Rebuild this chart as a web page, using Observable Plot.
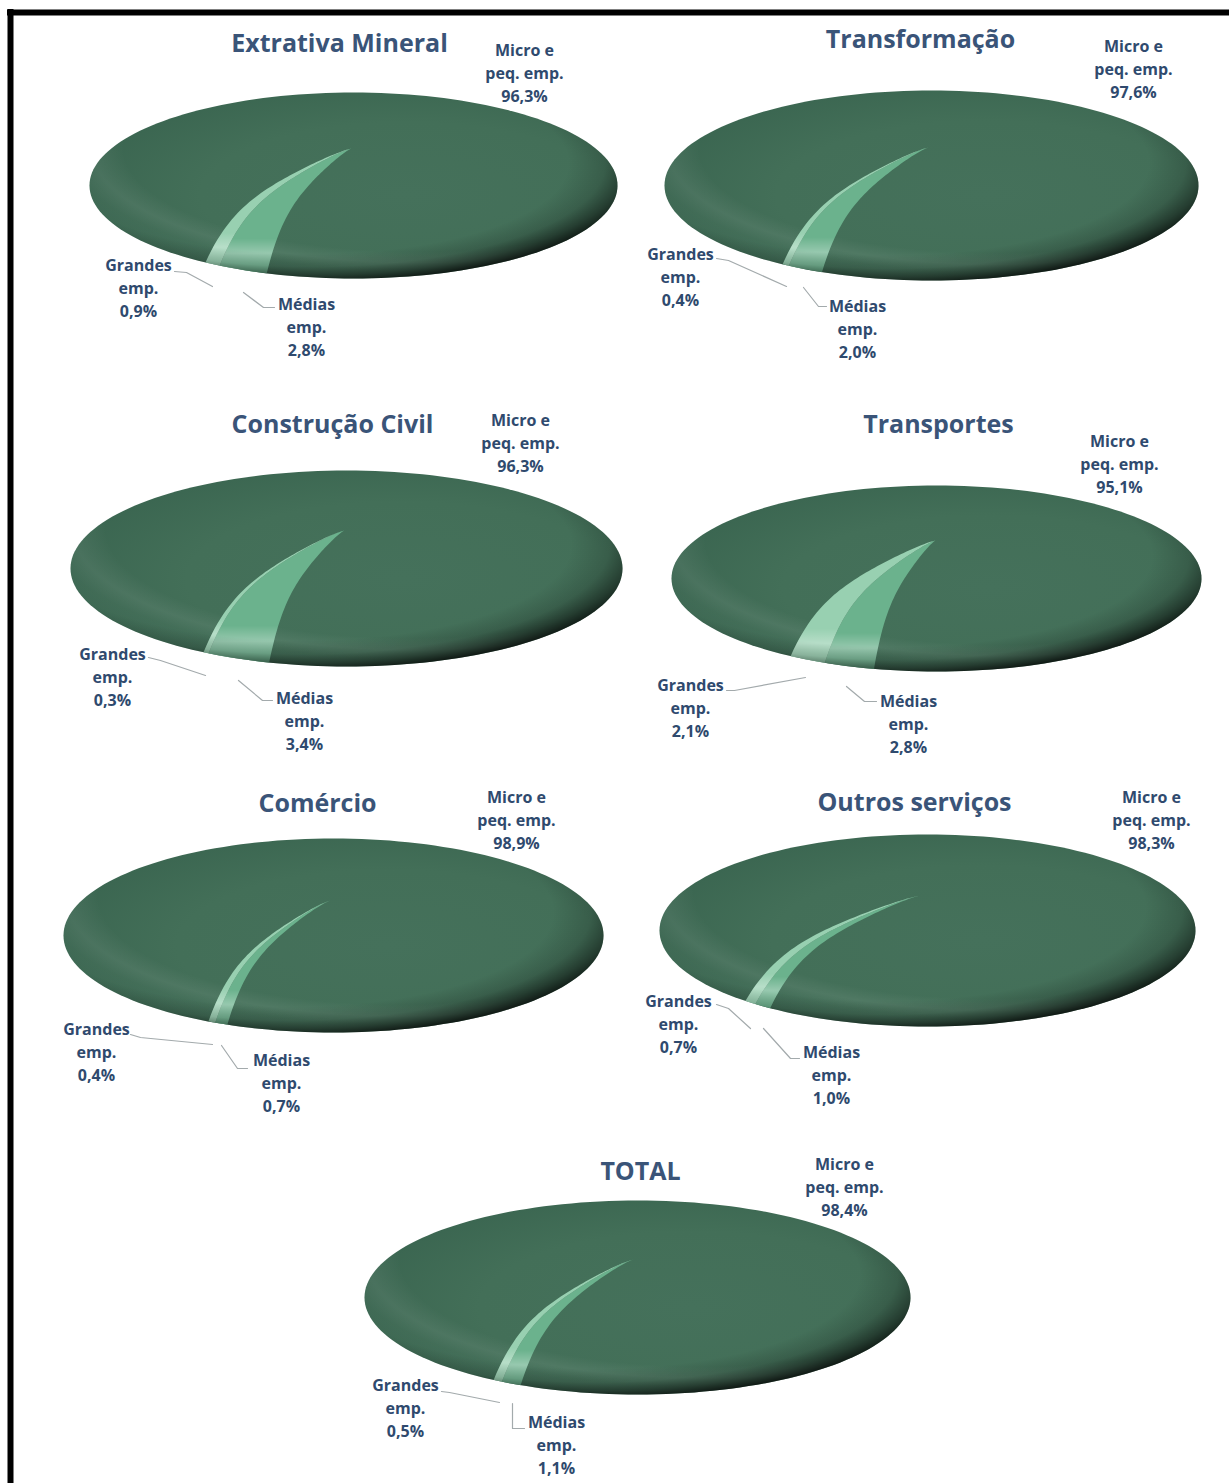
<!DOCTYPE html>
<html lang="pt">
<head>
<meta charset="utf-8">
<title>Participação das empresas por porte e setor</title>
<script src="https://cdn.jsdelivr.net/npm/d3@7"></script>
<script src="https://cdn.jsdelivr.net/npm/@observablehq/plot@0.6"></script>
<style>
  html, body { margin: 0; background: #fff; }
  svg { display: block; }
</style>
</head>
<body>
<div id="chart"></div>
<script>
// Share of firms by size (%), one pie per sector
const sectors = ["Extrativa Mineral", "Transformação", "Construção Civil", "Transportes", "Comércio", "Outros serviços", "TOTAL"];
const micro   = [96.3, 97.6, 96.3, 95.1, 98.9, 98.3, 98.4];
const medias  = [2.8, 2.0, 3.4, 2.8, 0.7, 1.0, 1.1];
const grandes = [0.9, 0.4, 0.3, 2.1, 0.4, 0.7, 0.5];

const microName = "Micro e\npeq. emp.";
const mediasName = "Médias\nemp.";
const grandesName = "Grandes\nemp.";

// Pie placement on the page: centre, radii, raised apex, and how far the slices start from the bottom (degrees)
const pieLayout = [
  {cx: 353, cy: 185, rx: 264, ry: 93, ax: 351, ay: 148, start: 34.1},
  {cx: 931, cy: 185, rx: 267, ry: 95, ax: 928, ay: 147, start: 33.9},
  {cx: 346, cy: 568, rx: 276, ry: 98, ax: 344, ay: 530, start: 31.2},
  {cx: 936, cy: 578, rx: 265, ry: 93, ax: 935, ay: 540, start: 33.4},
  {cx: 333, cy: 935, rx: 270, ry: 97, ax: 330, ay: 900, start: 27.6},
  {cx: 927, cy: 930, rx: 268, ry: 96, ax: 920, ay: 895, start: 42.8},
  {cx: 637, cy: 1297, rx: 273, ry: 97, ax: 633, ay: 1259, start: 31.8}
];

// Text placement: title, then middle line of each three-line label
const titleAt   = [[339, 43], [920, 39], [332, 424], [938, 424], [317, 803], [914, 802], [640, 1171]];
const microAt   = [[524, 71], [1133, 67], [520, 441], [1119, 462], [516, 818], [1151, 818], [844, 1185]];
const grandesAt = [[138, 286], [680, 275], [112, 675], [690, 706], [96, 1050], [678, 1022], [405, 1406]];
const mediasAt  = [[306, 325], [857, 327], [304, 719], [908, 722], [281, 1081], [831, 1073], [556, 1443]];

// Leader line bends
const grandesLeader = [
  [[174, 271], [186, 272], [212, 286]],
  [[716, 258], [728, 260], [786, 286]],
  [[148, 657], [160, 660], [205, 675]],
  [[726, 690], [734, 690], [805, 677]],
  [[130, 1034], [140, 1037], [212, 1044]],
  [[716, 1004], [728, 1008], [750, 1028]],
  [[441, 1391], [449, 1392], [499, 1402]]
];
const mediasLeader = [
  [[243, 292], [263, 307], [274, 307]],
  [[803, 287], [818, 306], [826, 306]],
  [[238, 680], [262, 700], [272, 700]],
  [[846, 686], [864, 701], [876, 701]],
  [[221, 1045], [237, 1068], [247, 1068]],
  [[763, 1028], [790, 1058], [799, 1058]],
  [[512, 1403], [512, 1428], [524, 1428]]
];

const degPerPercent = 3.6 * 1.12; // the tilted view widens the front of the pie
const rad = Math.PI / 180;
const decimal = v => v.toFixed(1).replace(".", ",") + "%";

// Outline of the whole pie
function ellipse(p, i) {
  return d3.range(0, 361, 2).map(a => ({
    pie: i,
    x: p.cx + p.rx * Math.cos(a * rad),
    y: p.cy + p.ry * Math.sin(a * rad)
  }));
}

function rimPoint(p, a) {
  return [p.cx - p.rx * Math.sin(a * rad), p.cy + p.ry * Math.cos(a * rad)];
}

// Slice edge running from the raised apex to the rim, bowed by the domed surface
function edgePoint(p, a, r) {
  const [ex, ey] = rimPoint(p, a);
  const f = 0.66 * Math.pow(r, 1.2) + 0.34 * Math.pow(r, 6);
  return [p.ax + (ex - p.ax) * r, p.ay + (ey - p.ay) * f];
}

function slice(p, from, to, key) {
  const steps = d3.range(0, 1.0001, 0.02);
  const pts = [
    ...steps.map(r => edgePoint(p, from, r)),
    ...d3.range(0, 1.0001, 0.1).map(t => rimPoint(p, from + (to - from) * t)),
    ...steps.slice().reverse().map(r => edgePoint(p, to, r))
  ];
  return pts.map(([x, y]) => ({key, x, y}));
}

const outlines = pieLayout.flatMap(ellipse);
const grandesSlices = pieLayout.flatMap((p, i) =>
  slice(p, p.start, p.start - grandes[i] * degPerPercent, i));
const mediasSlices = pieLayout.flatMap((p, i) => {
  const from = p.start - grandes[i] * degPerPercent;
  return slice(p, from, from - medias[i] * degPerPercent, i);
});

const labelRows = [
  ...micro.map((v, i) => ({text: `${microName}\n${decimal(v)}`, at: microAt[i]})),
  ...medias.map((v, i) => ({text: `${mediasName}\n${decimal(v)}`, at: mediasAt[i]})),
  ...grandes.map((v, i) => ({text: `${grandesName}\n${decimal(v)}`, at: grandesAt[i]}))
];
const titleRows = sectors.map((text, i) => ({text, at: titleAt[i]}));
const leaderRows = [...grandesLeader, ...mediasLeader].flatMap((line, k) =>
  line.map(([x, y]) => ({k, x, y})));

// Gradients for the bevel along the lower rim of the pies and the glow on the slices
function gradients() {
  const g = d3.create("svg:g");
  const defs = g.append("defs");
  const addStops = (gr, stops) => stops.forEach(([o, c, a]) => gr.append("stop")
    .attr("offset", o).attr("stop-color", c).attr("stop-opacity", a));
  const radial = (id, attrs, stops) => {
    const gr = defs.append("radialGradient").attr("id", id);
    Object.entries(attrs).forEach(([k, v]) => gr.attr(k, v));
    addStops(gr, stops);
  };
  radial("pieBase", {cx: 0.6, cy: 0.55, r: 0.65}, [
    [0, "#45715b", 1], [0.6, "#436f58", 1], [1, "#3a6550", 1]
  ]);
  radial("pieLight", {cx: 0.62, cy: 0.3, r: 0.75}, [
    [0, "#fff", 0], [0.74, "#fff", 0], [0.82, "#fff", 0.07], [0.88, "#fff", 0.02], [1, "#fff", 0]
  ]);
  radial("pieRim", {cx: 0.42, cy: 0.38, r: 0.64}, [
    [0, "#000", 0], [0.76, "#000", 0], [0.87, "#000", 0.16], [0.94, "#000", 0.45], [1, "#000", 0.76]
  ]);
  const glow = defs.append("linearGradient").attr("id", "sliceGlow")
    .attr("x1", 0).attr("y1", 0).attr("x2", 0).attr("y2", 1);
  addStops(glow, [
    [0, "#fff", 0], [0.72, "#fff", 0], [0.84, "#fff", 0.3], [0.93, "#fff", 0.12], [1, "#fff", 0]
  ]);
  return g.node();
}

const inkLabel = "#2f4a6e";
const inkTitle = "#3a5478";

const chart = Plot.plot({
  width: 1229,
  height: 1483,
  margin: 0,
  inset: 0,
  style: {background: "#fff"},
  x: {domain: [0, 1229], range: [0, 1229], axis: null},
  y: {domain: [0, 1483], range: [0, 1483], axis: null},
  marks: [
    gradients,
    // Frame along the top and left of the panel
    Plot.ruleY([12], {x1: 7, x2: 1229, stroke: "#000", strokeWidth: 6}),
    Plot.ruleX([10], {y1: 9, y2: 1483, stroke: "#000", strokeWidth: 6}),
    Plot.line(outlines, {x: "x", y: "y", z: "pie", fill: "url(#pieBase)", stroke: "none"}),
    Plot.line(outlines, {x: "x", y: "y", z: "pie", fill: "url(#pieLight)", stroke: "none"}),
    Plot.line(mediasSlices, {x: "x", y: "y", z: "key", fill: "#6bb28d", stroke: "none"}),
    Plot.line(grandesSlices, {x: "x", y: "y", z: "key", fill: "#98d0b1", stroke: "none"}),
    Plot.line(mediasSlices, {x: "x", y: "y", z: "key", fill: "url(#sliceGlow)", stroke: "none"}),
    Plot.line(grandesSlices, {x: "x", y: "y", z: "key", fill: "url(#sliceGlow)", stroke: "none"}),
    Plot.line(outlines, {x: "x", y: "y", z: "pie", fill: "url(#pieRim)", stroke: "none"}),
    Plot.line(leaderRows, {x: "x", y: "y", z: "k", stroke: "#a3aaac", strokeWidth: 1.2}),
    Plot.text(labelRows, {
      x: d => d.at[0], y: d => d.at[1], text: "text",
      fontFamily: "Open Sans", fontWeight: 700, fontSize: 16, lineHeight: 1.44,
      fill: inkLabel, textAnchor: "middle"
    }),
    Plot.text(titleRows, {
      x: d => d.at[0], y: d => d.at[1], text: "text",
      fontFamily: "Open Sans", fontWeight: 700, fontSize: 25,
      fill: inkTitle, textAnchor: "middle"
    })
  ]
});

document.getElementById("chart").append(chart);
</script>
</body>
</html>
